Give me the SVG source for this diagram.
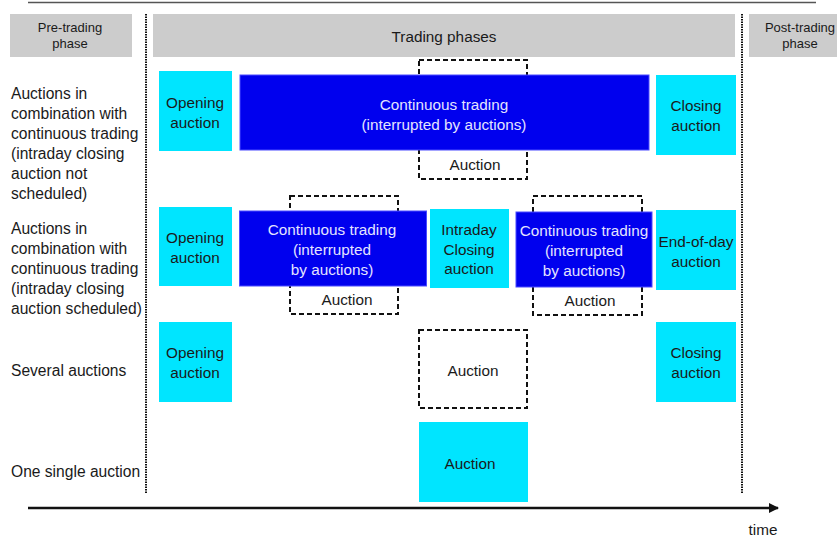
<svg xmlns="http://www.w3.org/2000/svg" width="837" height="538" viewBox="0 0 837 538">
<defs>
<style>
text{font-family:"Liberation Sans",Arial,sans-serif;fill:#1a1a1a;}
.hdr{fill:#cccccc;}
.hdrt{font-size:13px;text-anchor:middle;}
.lbl{font-size:15.6px;}
.cy{fill:#00e5ff;}
.bl{fill:#0000ee;stroke:#4a4aff;stroke-width:1;}
.bt{font-size:15.3px;text-anchor:middle;fill:#e4e4ff;}
.ct{font-size:15.3px;text-anchor:middle;}
.dash{fill:none;stroke:#111;stroke-width:2;stroke-dasharray:5,3;}
.vline{stroke:#111;stroke-width:2;stroke-dasharray:1.5,1;}
</style>
<marker id="arr" viewBox="0 0 10 10" refX="9" refY="5" markerWidth="4" markerHeight="4" orient="auto" markerUnits="strokeWidth">
<path d="M0,0 L10,5 L0,10 z" fill="#111"/>
</marker>
</defs>
<rect width="837" height="538" fill="#fff"/>
<line x1="28" y1="2.5" x2="816" y2="2.5" stroke="#555" stroke-width="1.5"/>

<g id="hdr-pre"><rect class="hdr" x="10" y="14" width="122" height="43"/><text class="hdrt" x="70" y="32">Pre-trading</text><text class="hdrt" x="70" y="48">phase</text></g>
<g id="hdr-trading"><rect class="hdr" x="153" y="14" width="582" height="43"/><text class="ct" x="444" y="42">Trading phases</text></g>
<g id="hdr-post"><rect class="hdr" x="749" y="14" width="88" height="43"/><text class="hdrt" x="800" y="32">Post-trading</text><text class="hdrt" x="800" y="48">phase</text></g>

<g id="row-labels">
<text class="lbl" x="11" y="99">Auctions in</text>
<text class="lbl" x="11" y="119">combination with</text>
<text class="lbl" x="11" y="139">continuous trading</text>
<text class="lbl" x="11" y="159">(intraday closing</text>
<text class="lbl" x="11" y="179">auction not</text>
<text class="lbl" x="11" y="199">scheduled)</text>
<text class="lbl" x="11" y="234">Auctions in</text>
<text class="lbl" x="11" y="254">combination with</text>
<text class="lbl" x="11" y="274">continuous trading</text>
<text class="lbl" x="11" y="294">(intraday closing</text>
<text class="lbl" x="11" y="314">auction scheduled)</text>
<text class="lbl" x="11" y="376">Several auctions</text>
<text class="lbl" x="11" y="477">One single auction</text>
</g>

<g id="connectors">
<line class="vline" x1="146" y1="14" x2="146" y2="494"/>
<line class="vline" x1="742" y1="14" x2="742" y2="494"/>
<line x1="28" y1="508" x2="778" y2="508" stroke="#111" stroke-width="2.5" marker-end="url(#arr)"/>
</g>
<g id="time-label"><text x="763" y="535" text-anchor="middle" style="font-size:15.3px">time</text></g>

<g id="r1-open"><rect class="cy" x="159" y="71" width="73" height="80"/><text class="ct" x="195" y="108">Opening</text><text class="ct" x="195" y="128">auction</text></g>
<g id="r1-auction"><rect class="dash" x="419" y="60" width="108" height="119"/><text class="ct" x="475" y="170">Auction</text></g>
<g id="r1-cont"><rect class="bl" x="240" y="75" width="409" height="75"/><text class="bt" x="444" y="110">Continuous trading</text><text class="bt" x="444" y="130">(interrupted by auctions)</text></g>
<g id="r1-close"><rect class="cy" x="656" y="75" width="80" height="80"/><text class="ct" x="696" y="111">Closing</text><text class="ct" x="696" y="131">auction</text></g>

<g id="r2-open"><rect class="cy" x="159" y="207" width="73" height="79"/><text class="ct" x="195" y="243">Opening</text><text class="ct" x="195" y="263">auction</text></g>
<g id="r2-auction1"><rect class="dash" x="290" y="196" width="108" height="118"/><text class="ct" x="347" y="305">Auction</text></g>
<g id="r2-cont1"><rect class="bl" x="239.5" y="211" width="187" height="75"/><text class="bt" x="332" y="235">Continuous trading</text><text class="bt" x="332" y="255">(interrupted</text><text class="bt" x="332" y="275">by auctions)</text></g>
<g id="r2-intraday"><rect class="cy" x="430" y="209" width="79" height="79"/><text class="ct" x="469" y="235">Intraday</text><text class="ct" x="469" y="255">Closing</text><text class="ct" x="469" y="274">auction</text></g>
<g id="r2-auction2"><rect class="dash" x="533" y="196" width="109" height="119"/><text class="ct" x="590" y="306">Auction</text></g>
<g id="r2-cont2"><rect class="bl" x="516" y="212" width="136" height="75"/><text class="bt" x="584" y="236">Continuous trading</text><text class="bt" x="584" y="256">(interrupted</text><text class="bt" x="584" y="276">by auctions)</text></g>
<g id="r2-eod"><rect class="cy" x="656" y="210" width="80" height="80"/><text class="ct" x="696" y="247">End-of-day</text><text class="ct" x="696" y="267">auction</text></g>

<g id="r3-open"><rect class="cy" x="159" y="322" width="73" height="80"/><text class="ct" x="195" y="358">Opening</text><text class="ct" x="195" y="378">auction</text></g>
<g id="r3-auction"><rect class="dash" x="419" y="330" width="108" height="78"/><text class="ct" x="473" y="376">Auction</text></g>
<g id="r3-close"><rect class="cy" x="656" y="322" width="80" height="80"/><text class="ct" x="696" y="358">Closing</text><text class="ct" x="696" y="378">auction</text></g>

<g id="r4-auction"><rect class="cy" x="419" y="422" width="109" height="80"/><text class="ct" x="470" y="469">Auction</text></g>
</svg>
